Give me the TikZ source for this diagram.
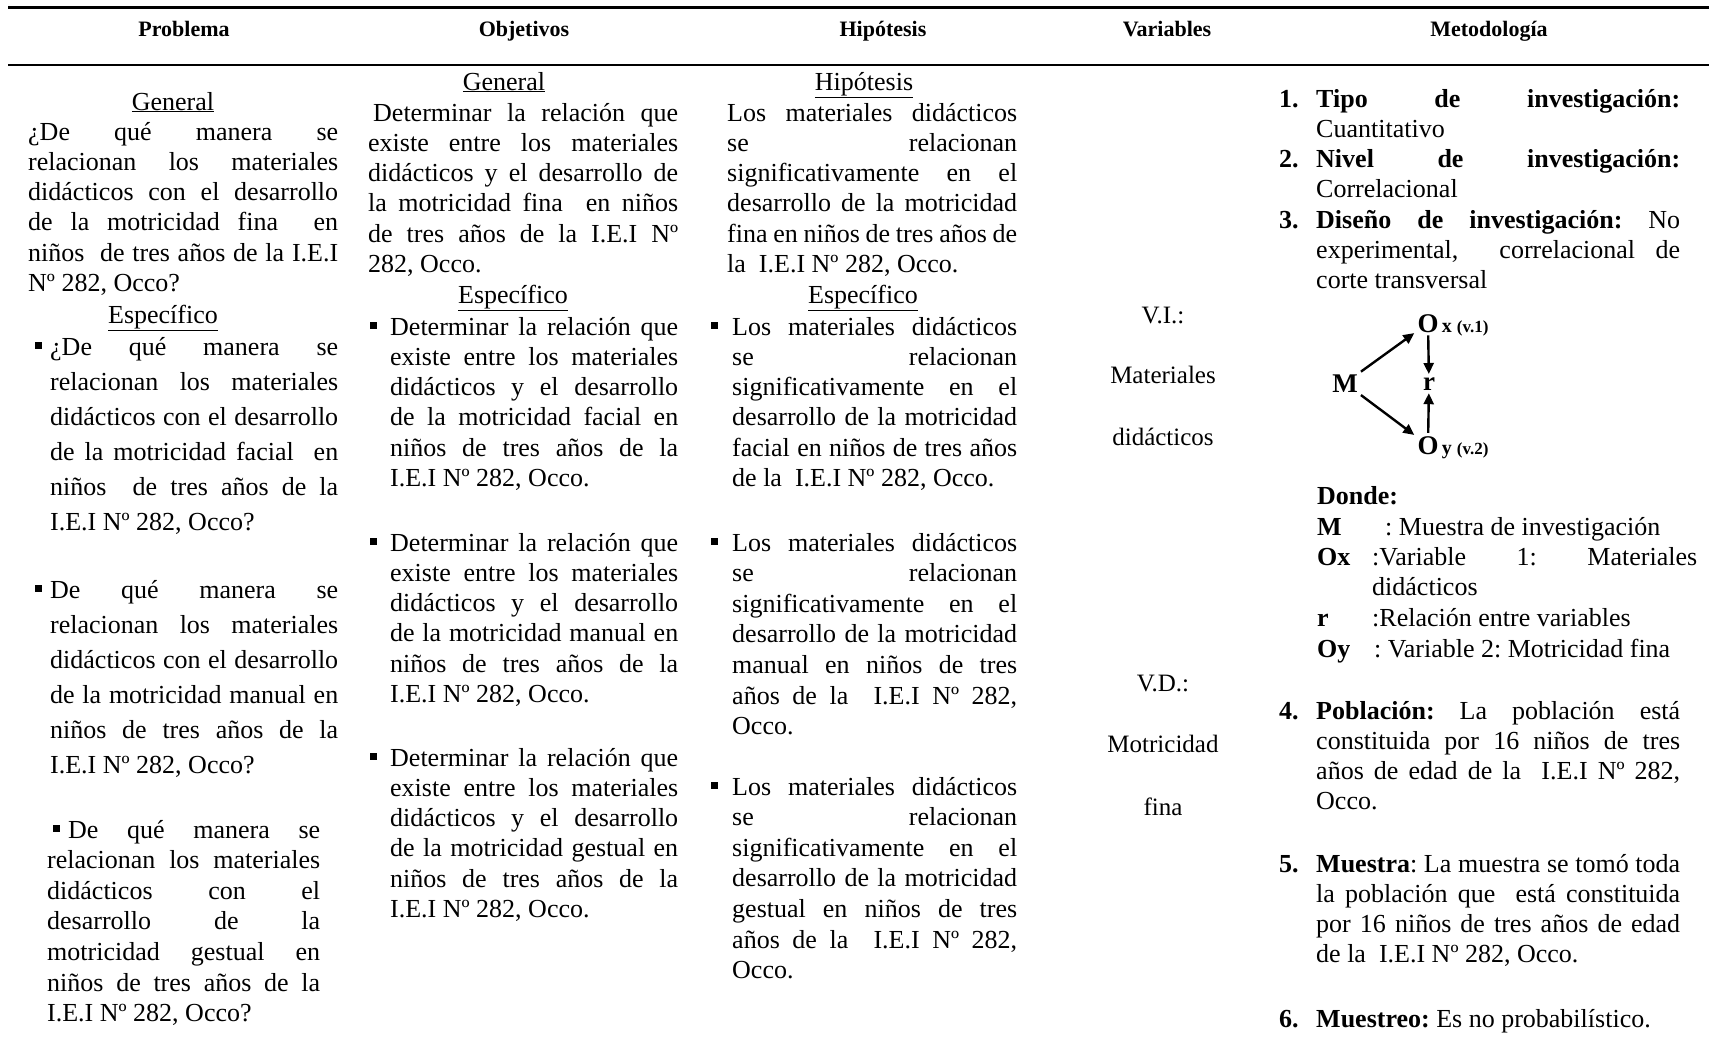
\documentclass[tikz,border=0pt]{standalone}
\usepackage{fontspec}
\setmainfont{Liberation Serif}
\usetikzlibrary{arrows.meta}
\frenchspacing
\newcommand\J[1]{{\spaceskip=0pt\xspaceskip=0pt\makebox[\hsize][s]{#1}}}
\newcommand\sqb{\rule[6pt]{7pt}{7pt}}
\newcommand\bodyfont[1]{\fontsize{26}{#1}\selectfont\spaceskip=0pt\xspaceskip=0pt\parindent=0pt\frenchspacing}
\tikzset{
  txt/.style={inner sep=0pt, anchor=base west, font=\bodyfont{30.3}},
  para/.style={txt, align=justify, text width=#1},
  parab/.style={para=#1, font=\bodyfont{35}},
  parac/.style={para=#1, font=\bodyfont{30.6}},
  ttl/.style={inner sep=0pt, anchor=base, font=\bodyfont{30}},
  vtxt/.style={inner sep=0pt, anchor=base, font=\fontsize{25}{30}\selectfont},
  hdr/.style={inner sep=0pt, anchor=base, font=\bfseries\fontsize{22}{26}\selectfont},
  bul/.style={inner sep=0pt, anchor=base west},
  num/.style={inner sep=0pt, anchor=base west, font=\bfseries\fontsize{26}{30}\selectfont},
  dg/.style={inner sep=3pt, anchor=base, font=\bfseries\fontsize{27}{30}\selectfont},
  dgs/.style={inner sep=0pt, anchor=base west, font=\bfseries\fontsize{17}{20}\selectfont},
  arr/.style={line width=2.4pt, -{Triangle[length=11pt,width=10pt]}},
  hrule/.style={line width=2.2pt},
}
\begin{document}
\begin{tikzpicture}[x=1pt,y=-1pt]
\useasboundingbox (0,0) rectangle (1709,1044);
\fill[white] (0,0) rectangle (1709,1044);
% header
\draw[hrule] (8,7.5) -- (1709,7.5);
\draw[hrule] (8,65) -- (1709,65);
\node[hdr] (hP) at (184,36) {Problema};
\node[hdr] (hO) at (524,36) {Objetivos};
\node[hdr] (hH) at (883,36) {Hipótesis};
\node[hdr] (hV) at (1167,36) {Variables};
\node[hdr] (hM) at (1489,36) {Metodología};
% Problema
\node[ttl] (pG) at (173,110) {\underline{General}};
\node[para=310pt] (pGt) at (28,140) {\J{¿De qué manera se}\\\J{relacionan los materiales}\\\J{didácticos con el desarrollo}\\\J{de la motricidad fina\ \ en}\\\J{niños\ \ de tres años de la I.E.I}\\Nº 282, Occo?};
\node[ttl] (pE) at (163,323) {\underline{Específico}};
\node[bul] (pb1) at (35,355) {\sqb};
\node[parab=288pt] (pE1) at (50,355) {\J{¿De qué manera se}\\\J{relacionan los materiales}\\\J{didácticos con el desarrollo}\\\J{de la motricidad facial\ \ en}\\\J{niños\ \ de tres años de la}\\I.E.I Nº 282, Occo?};
\node[bul] (pb2) at (35,598) {\sqb};
\node[parab=288pt] (pE2) at (50,598) {\J{De qué manera se}\\\J{relacionan los materiales}\\\J{didácticos con el desarrollo}\\\J{de la motricidad manual en}\\\J{niños de tres años de la}\\I.E.I Nº 282, Occo?};
\node[parac=273pt] (pE3) at (47,838) {\J{\hspace*{6pt}\sqb\hspace*{8pt}De qué manera se}\\\J{relacionan los materiales}\\\J{didácticos con el}\\\J{desarrollo de la}\\\J{motricidad gestual en}\\\J{niños de tres años de la}\\I.E.I Nº 282, Occo?};
% Objetivos
\node[ttl] (oG) at (504,90) {\underline{General}};
\node[para=310pt] (oGt) at (368,121) {\J{\hspace*{5pt}Determinar la relación que}\\\J{existe entre los materiales}\\\J{didácticos y el desarrollo de}\\\J{la motricidad fina\ \ en niños}\\\J{de tres años de la I.E.I Nº}\\282, Occo.};
\node[ttl] (oE) at (513,303) {\underline{Específico}};
\node[bul] (ob1) at (370,335) {\sqb};
\node[para=288pt] (oE1) at (390,335) {\J{Determinar la relación que}\\\J{existe entre los materiales}\\\J{didácticos y el desarrollo}\\\J{de la motricidad facial en}\\\J{niños de tres años de la}\\I.E.I Nº 282, Occo.};
\node[bul] (ob2) at (370,551) {\sqb};
\node[para=288pt] (oE2) at (390,551) {\J{Determinar la relación que}\\\J{existe entre los materiales}\\\J{didácticos y el desarrollo}\\\J{de la motricidad manual en}\\\J{niños de tres años de la}\\I.E.I Nº 282, Occo.};
\node[bul] (ob3) at (370,766) {\sqb};
\node[para=288pt] (oE3) at (390,766) {\J{Determinar la relación que}\\\J{existe entre los materiales}\\\J{didácticos y el desarrollo}\\\J{de la motricidad gestual en}\\\J{niños de tres años de la}\\I.E.I Nº 282, Occo.};
% Hipotesis
\node[ttl] (hG) at (864,90) {\underline{Hipótesis}};
\node[para=290pt] (hGt) at (727,121) {\J{Los materiales didácticos}\\\J{se relacionan}\\\J{significativamente en el}\\\J{desarrollo de la motricidad}\\\J{fina en niños de tres años de}\\la\ \ I.E.I Nº 282, Occo.};
\node[ttl] (hE) at (863,303) {\underline{Específico}};
\node[bul] (hb1) at (711,335) {\sqb};
\node[para=285pt] (hE1) at (732,335) {\J{Los materiales didácticos}\\\J{se relacionan}\\\J{significativamente en el}\\\J{desarrollo de la motricidad}\\\J{facial en niños de tres años}\\de la\ \ I.E.I Nº 282, Occo.};
\node[bul] (hb2) at (711,551) {\sqb};
\node[parac=285pt] (hE2) at (732,551) {\J{Los materiales didácticos}\\\J{se relacionan}\\\J{significativamente en el}\\\J{desarrollo de la motricidad}\\\J{manual en niños de tres}\\\J{años de la\ \ I.E.I Nº 282,}\\Occo.};
\node[bul] (hb3) at (711,795) {\sqb};
\node[parac=285pt] (hE3) at (732,795) {\J{Los materiales didácticos}\\\J{se relacionan}\\\J{significativamente en el}\\\J{desarrollo de la motricidad}\\\J{gestual en niños de tres}\\\J{años de la\ \ I.E.I Nº 282,}\\Occo.};
% Variables
\node[vtxt] (v1) at (1163,323) {V.I.:};
\node[vtxt] (v2) at (1163,383) {Materiales};
\node[vtxt] (v3) at (1163,445) {didácticos};
\node[vtxt] (v4) at (1163,691) {V.D.:};
\node[vtxt] (v5) at (1163,752) {Motricidad};
\node[vtxt] (v6) at (1163,815) {fina};
% Metodologia
\node[num] (n1) at (1279,107) {1.};
\node[num] (n2) at (1279,167.6) {2.};
\node[num] (n3) at (1279,228.2) {3.};
\node[para=364pt] (m13) at (1316,107) {\J{\textbf{Tipo de investigación:}}\\Cuantitativo\\\J{\textbf{Nivel de investigación:}}\\Correlacional\\\J{\textbf{Diseño de investigación:} No}\\\J{experimental,\ \ correlacional de}\\corte transversal};
% diagram
\node[dg] (M) at (1345,392) {M};
\node[dg] (Ox) at (1428,332) {O};
\node[dgs] (Oxl) at (Ox.base east) {\fontsize{20}{20}\selectfont x \fontsize{17}{20}\selectfont(v.1)};
\node[dg] (r) at (1429,390) {r};
\node[dg] (Oy) at (1428,454) {O};
\node[dgs] (Oyl) at (Oy.base east) {\fontsize{20}{20}\selectfont y \fontsize{17}{20}\selectfont(v.2)};
\draw[arr] (M) -- (Ox);
\draw[arr] (M) -- (Oy);
\draw[arr] (Ox) -- (r);
\draw[arr] (Oy) -- (r);
% Donde
\node[num] (dd) at (1317,504) {Donde:};
\node[num] (dM) at (1317,535) {M};
\node[txt] (dMt) at (1385,535) {: Muestra de investigación};
\node[num] (dOx) at (1317,565.5) {Ox};
\node[para=325pt] (dOxt) at (1372,565.5) {\J{:Variable 1: Materiales}\\didácticos};
\node[num] (dr) at (1317,626.5) {r};
\node[txt] (drt) at (1372,626.5) {:Relación entre variables};
\node[num] (dOy) at (1317,657) {Oy};
\node[txt] (dOyt) at (1374,657) {: Variable 2: Motricidad fina};
% items 4-6
\node[num] (n4) at (1279,719) {4.};
\node[para=364pt] (m4) at (1316,719) {\J{\textbf{Población:} La población está}\\\J{constituida por 16 niños de tres}\\\J{años de edad de la\ \ I.E.I Nº 282,}\\Occo.};
\node[num] (n5) at (1279,872) {5.};
\node[para=364pt] (m5) at (1316,872) {\J{\textbf{Muestra}: La muestra se tomó toda}\\\J{la población que\ \ está constituida}\\\J{por 16 niños de tres años de edad}\\de la\ \ I.E.I Nº 282, Occo.};
\node[num] (n6) at (1279,1027) {6.};
\node[txt] (m6) at (1316,1027) {\textbf{Muestreo:} Es no probabilístico.};
\end{tikzpicture}
\end{document}
